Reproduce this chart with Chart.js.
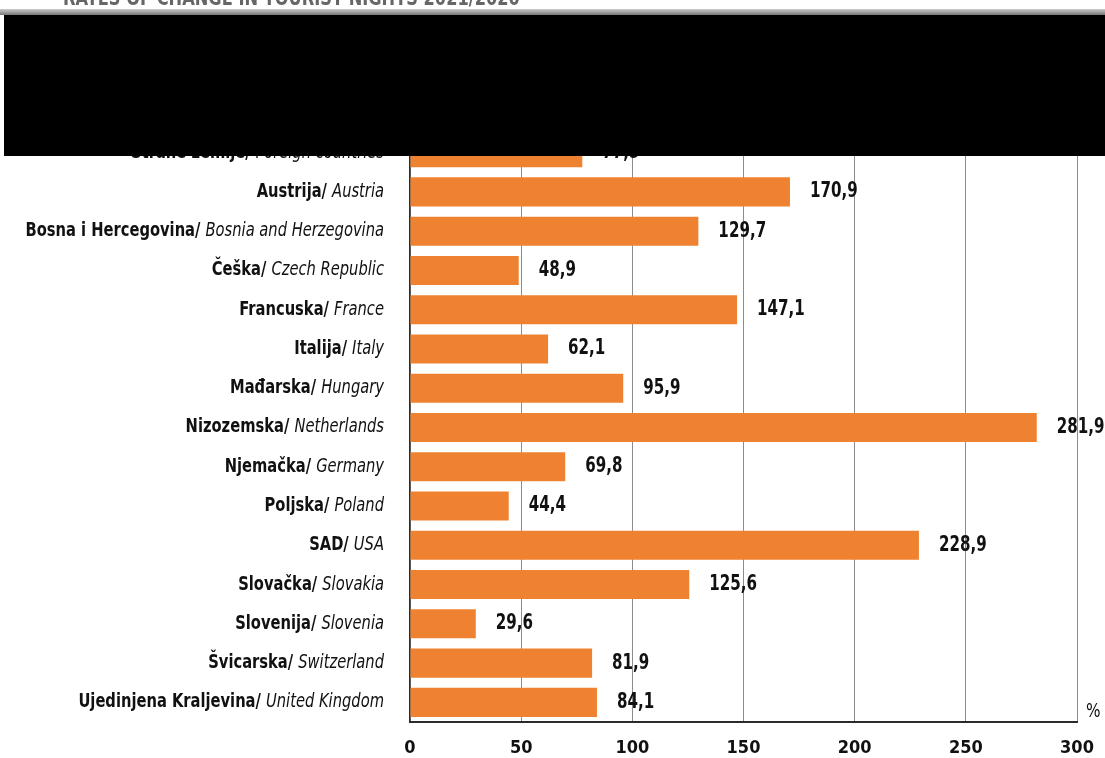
<!DOCTYPE html>
<html>
<head>
<meta charset="utf-8">
<script src="https://cdn.jsdelivr.net/npm/chart.js@4"></script>
<style>
  html, body { margin: 0; padding: 0; background: #fff; }
  #wrap { position: relative; width: 1105px; height: 758px; overflow: hidden; }
  #title {
    position: absolute; left: 63px; top: -15px;
    font: bold 22px 'DejaVu Sans Condensed', sans-serif;
    color: #666; white-space: nowrap;
    transform: scaleX(0.82); transform-origin: left top;
  }
  #band { position: absolute; left: 0; top: 9px; width: 1105px; height: 6px;
    background: linear-gradient(#ccc, #777); }
  #mask { position: absolute; left: 4px; top: 15px; width: 1101px; height: 141px; background: #000; }
</style>
</head>
<body>
<div id="wrap">
  <canvas id="chart-nights" width="1105" height="758"></canvas>
  <div id="title">RATES OF CHANGE IN TOURIST NIGHTS 2021/2020</div>
  <div id="band"></div>
  <div id="mask"></div>
</div>
<script>
/**
 * Stope promjene noćenja turista po zemljama — vodoravni stupci
 */
const hrNames = ['Strane zemlje', 'Austrija', 'Bosna i Hercegovina', 'Češka', 'Francuska', 'Italija',
  'Mađarska', 'Nizozemska', 'Njemačka', 'Poljska', 'SAD', 'Slovačka', 'Slovenija', 'Švicarska',
  'Ujedinjena Kraljevina'];
const enNames = ['Foreign countries', 'Austria', 'Bosnia and Herzegovina', 'Czech Republic', 'France', 'Italy',
  'Hungary', 'Netherlands', 'Germany', 'Poland', 'USA', 'Slovakia', 'Slovenia', 'Switzerland',
  'United Kingdom'];
const values = [77.5, 170.9, 129.7, 48.9, 147.1, 62.1, 95.9, 281.9, 69.8, 44.4, 228.9, 125.6, 29.6, 81.9, 84.1];
const xTicks = [0, 50, 100, 150, 200, 250, 300];
const unitLabel = '%';

const FONT = "'DejaVu Sans Condensed', 'Liberation Sans', sans-serif";
const COLORS = {
  bar: '#ef8231',
  grid: '#8c8c8c',
  axis: '#2b2b2b',
  text: '#111',
};

// draw text squeezed horizontally (the original uses a condensed face)
function narrowText(ctx, text, x, y, align, squeeze) {
  ctx.save();
  ctx.translate(x, y);
  ctx.scale(squeeze, 1);
  ctx.textAlign = align;
  ctx.fillText(text, 0, 0);
  ctx.restore();
  return ctx.measureText(text).width * squeeze;
}

/** 이름표(굵게 + 기울임) 와 값 표시 */
const labelPlugin = {
  id: 'labels',
  afterDatasetsDraw(chart) {
    const { ctx, chartArea, scales } = chart;
    const x = scales.x, y = scales.y;
    ctx.save();
    ctx.fillStyle = COLORS.text;
    ctx.textBaseline = 'middle';
    hrNames.forEach((hr, i) => {
      const py = y.getPixelForValue(i);
      const right = chartArea.left - 26;
      ctx.font = `italic 19px ${FONT}`;
      const w = narrowText(ctx, enNames[i], right, py, 'right', 0.86);
      ctx.font = `bold 19px ${FONT}`;
      narrowText(ctx, hr + '/ ', right - w, py, 'right', 0.86);
      ctx.font = `bold 21px ${FONT}`;
      narrowText(ctx, values[i].toFixed(1).replace('.', ','), x.getPixelForValue(values[i]) + 20, py, 'left', 0.8);
    });
    ctx.font = `20px ${FONT}`;
    narrowText(ctx, unitLabel, chartArea.right + 9, chartArea.bottom - 10, 'left', 0.85);
    ctx.restore();
  },
};

function createNightsChart() {
  const ctx = document.getElementById('chart-nights');
  if (!ctx) return;

  new Chart(ctx, {
    type: 'bar',
    data: {
      labels: hrNames,
      datasets: [{
        data: values,
        backgroundColor: COLORS.bar,
        borderWidth: 0,
        barPercentage: 0.74,
        categoryPercentage: 1,
      }],
    },
    options: {
      responsive: false,
      animation: false,
      indexAxis: 'y',
      layout: { padding: { left: 410, right: 28, top: 133, bottom: 0 } },
      scales: {
        x: {
          min: 0,
          max: 300,
          afterBuildTicks: (s) => { s.ticks = xTicks.map((v) => ({ value: v })); },
          afterFit: (s) => { s.height = 36; s.paddingLeft = 0; s.paddingRight = 0; },
          grid: { color: COLORS.grid, lineWidth: 1, drawTicks: false },
          border: { color: COLORS.axis, width: 2 },
          ticks: {
            color: COLORS.text,
            padding: 16,
            maxRotation: 0,
            font: { family: FONT, size: 18, weight: 'bold' },
          },
        },
        y: {
          afterFit: (s) => { s.width = 0; },
          grid: { display: false },
          border: { color: COLORS.axis, width: 1.5 },
          ticks: { display: false },
        },
      },
      plugins: {
        legend: { display: false },
        tooltip: { enabled: false },
      },
    },
    plugins: [labelPlugin],
  });
}

createNightsChart();
</script>
</body>
</html>
